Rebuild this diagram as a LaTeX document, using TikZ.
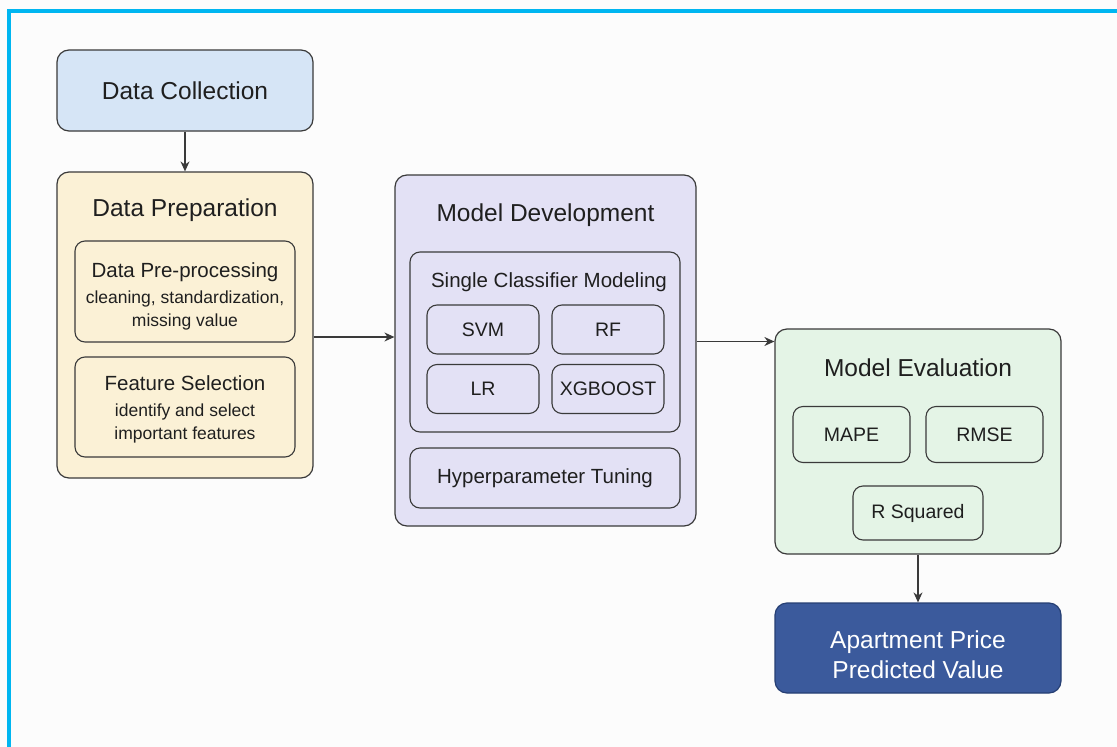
\documentclass[tikz,border=0pt]{standalone}
\usepackage{fontspec}
\setmainfont{Liberation Sans}
\usetikzlibrary{arrows.meta}

\definecolor{collectblue}{HTML}{D6E5F6}
\definecolor{prepcream}{HTML}{FBF1D6}
\definecolor{devlilac}{HTML}{E3E1F5}
\definecolor{evalgreen}{HTML}{E4F4E6}
\definecolor{pricenavy}{HTML}{3B5A9C}
\definecolor{pricerim}{HTML}{263F73}
\definecolor{framecyan}{HTML}{00B6F1}
\definecolor{edgegray}{HTML}{3A3A3A}

\begin{document}
\begin{tikzpicture}[x=1pt, y=-1pt,
    stage/.style={draw=edgegray, line width=1.2pt, rounded corners=12pt, inner sep=0pt},
    part/.style={draw=edgegray, line width=1.1pt, rounded corners=10pt, inner sep=0pt, align=center},
    heading/.style={font=\fontsize{24.5}{29}\selectfont, text=black!88},
    subhead/.style={font=\fontsize{20.5}{25}\selectfont, text=black!88},
    method/.style={part, minimum width=112pt, minimum height=49pt, font=\fontsize{19.5}{23}\selectfont, text=black!88},
    metric/.style={part, minimum height=56pt, font=\fontsize{19.5}{23}\selectfont, text=black!88},
    flow/.style={draw=edgegray, line width=1.2pt, -{Stealth[length=10pt,width=9pt]}}
  ]
  \useasboundingbox (0,0) rectangle (1117,747);
  \fill[white!99!black] (0,0) rectangle (1117,747);
  % frame on top and left
  \draw[framecyan, line width=4pt] (8.5,747) -- (8.5,11) -- (1117,11);

  % Data collection
  \node[stage, fill=collectblue, minimum width=256pt, minimum height=81pt, heading] (collect) at (185,90.5) {Data Collection};

  % Data preparation
  \node[stage, fill=prepcream, minimum width=256pt, minimum height=306pt] (prep) at (185,325) {};
  \node[heading] (prepTitle) at (185,210) {Data Preparation};
  \node[part, minimum width=220pt, minimum height=101pt, font=\fontsize{17.5}{23}\selectfont, text=black!88] (preproc) at (185,291.5)
    {{\fontsize{20.5}{25}\selectfont\rule{0pt}{24pt}Data Pre-processing}\\[3pt] cleaning, standardization,\\ missing value};
  \node[part, minimum width=220pt, minimum height=100pt, font=\fontsize{17.5}{23}\selectfont, text=black!88] (featsel) at (185,407)
    {{\fontsize{20.5}{25}\selectfont\rule{0pt}{20pt}Feature Selection}\\[3pt] identify and select\\ important features};

  % Model development
  \node[stage, fill=devlilac, minimum width=301pt, minimum height=351pt] (dev) at (545.5,350.5) {};
  \node[heading] (devTitle) at (545.5,215) {Model Development};
  \node[part, minimum width=270pt, minimum height=180pt] (single) at (545,342) {};
  \node[subhead] (singleTitle) at (549,282) {Single Classifier Modeling};
  \node[method] (svm) at (483,329.5) {SVM};
  \node[method] (rf) at (608,329.5) {RF};
  \node[method] (lr) at (483,389) {LR};
  \node[method] (xgb) at (608,389) {XGBOOST};
  \node[part, minimum width=270pt, minimum height=60pt, subhead] (tuning) at (545,478) {Hyperparameter Tuning};

  % Model evaluation
  \node[stage, fill=evalgreen, minimum width=286pt, minimum height=225pt] (eval) at (918,441.5) {};
  \node[heading] (evalTitle) at (918,367.5) {Model Evaluation};
  \node[metric, minimum width=117pt] (mape) at (851.5,434.5) {MAPE};
  \node[metric, minimum width=117pt] (rmse) at (984.5,434.5) {RMSE};
  \node[metric, minimum width=130pt, minimum height=54pt] (rsq) at (918,513) {R Squared};

  % Result
  \node[stage, draw=pricerim, fill=pricenavy, text=white, minimum width=286pt, minimum height=90pt, align=center,
    font=\fontsize{24.5}{30}\selectfont] (price) at (918,648) {\rule{0pt}{31pt}Apartment Price\\Predicted Value};

  % Draw connections
  \coordinate (prepOut) at ([yshift=-12pt]prep.east);
  \coordinate (devOut) at ([yshift=9pt]dev.east);
  \draw[flow] (collect) -- (prep);
  \draw[flow] (prepOut) -- (dev.west |- prepOut);
  \draw[flow] (devOut) -- (eval.west |- devOut);
  \draw[flow] (eval) -- (price);
\end{tikzpicture}
\end{document}
